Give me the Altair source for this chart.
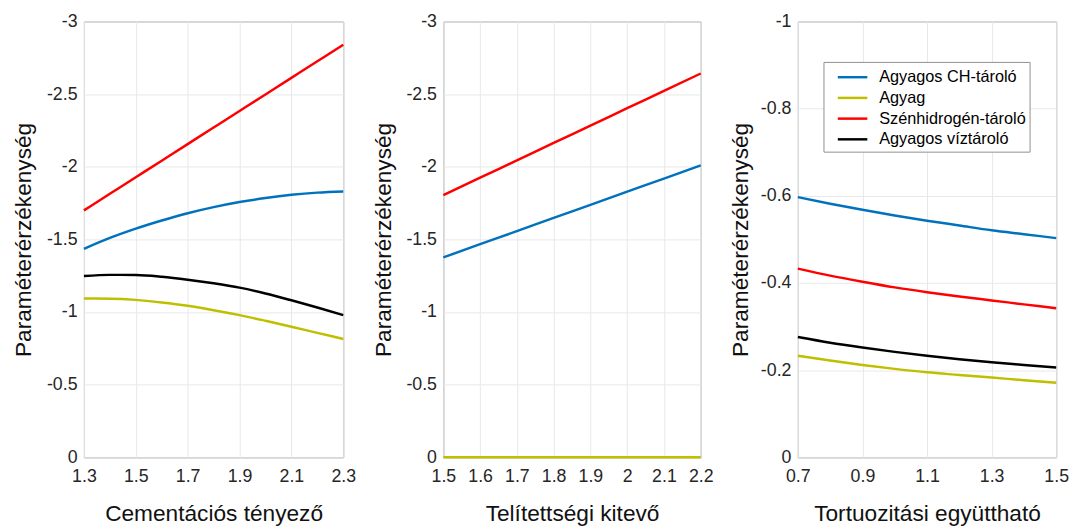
import altair as alt
import pandas as pd

series_names = ["Agyagos CH-tároló", "Agyag", "Szénhidrogén-tároló", "Agyagos víztároló"]
series_colors = ["#0072BD", "#BFBF00", "#FF0000", "#000000"]

# Panel 1: Cementációs tényező
p1_x = [1.3, 1.4, 1.5, 1.6, 1.7, 1.8, 1.9, 2.0, 2.1, 2.2, 2.3]
p1_blue = [-1.435, -1.51, -1.574, -1.63, -1.68, -1.722, -1.757, -1.785, -1.807, -1.822, -1.83]
p1_yellow = [-1.093, -1.092, -1.084, -1.066, -1.043, -1.013, -0.979, -0.94, -0.899, -0.857, -0.815]
p1_red = [-1.70, -1.814, -1.928, -2.042, -2.156, -2.27, -2.384, -2.498, -2.612, -2.726, -2.84]
p1_black = [-1.248, -1.256, -1.255, -1.243, -1.223, -1.198, -1.168, -1.128, -1.081, -1.031, -0.979]

# Panel 2: Telítettségi kitevő
p2_x = [1.5, 1.6, 1.7, 1.8, 1.9, 2.0, 2.1, 2.2]
p2_blue = [-1.376, -1.467, -1.557, -1.648, -1.738, -1.829, -1.919, -2.01]
p2_yellow = [0, 0, 0, 0, 0, 0, 0, 0]
p2_red = [-1.805, -1.925, -2.044, -2.164, -2.283, -2.403, -2.522, -2.642]

# Panel 3: Tortuozitási együttható
p3_x = [0.7, 0.8, 0.9, 1.0, 1.1, 1.2, 1.3, 1.4, 1.5]
p3_blue = [-0.597, -0.582, -0.568, -0.555, -0.543, -0.532, -0.521, -0.512, -0.503]
p3_yellow = [-0.233, -0.222, -0.212, -0.203, -0.195, -0.189, -0.183, -0.177, -0.171]
p3_red = [-0.433, -0.417, -0.403, -0.39, -0.379, -0.369, -0.36, -0.351, -0.342]
p3_black = [-0.276, -0.263, -0.252, -0.242, -0.233, -0.225, -0.218, -0.212, -0.206]

p1_ticks = [1.3, 1.5, 1.7, 1.9, 2.1, 2.3]
p2_ticks = [1.5, 1.6, 1.7, 1.8, 1.9, 2.0, 2.1, 2.2]
p3_ticks = [0.7, 0.9, 1.1, 1.3, 1.5]
y12_ticks = [0, -0.5, -1, -1.5, -2, -2.5, -3]
y3_ticks = [0, -0.2, -0.4, -0.6, -0.8, -1]

FONT = "Liberation Sans"


def make_df(xs, series):
    rows = []
    for order, (name, ys) in enumerate(series):
        for x, y in zip(xs, ys):
            rows.append({"x": x, "y": y, "series": name, "ord": order})
    return pd.DataFrame(rows)


def panel(df, xdom, xticks, ydom, yticks, xtitle, width, show_legend, ytitle_pad):
    color_scale = alt.Scale(domain=series_names, range=series_colors)
    if show_legend:
        legend = alt.Legend(
            title=None, orient="none", legendX=26, legendY=41,
            symbolType="M-1.42,0H1.42", symbolSize=445, symbolStrokeWidth=2.5,
            symbolFillColor="transparent",
            labelFontSize=16.5, labelFont=FONT, labelColor="#000000",
            labelExpr="datum.label + '\u00a0\u00a0\u00a0'",
            labelOffset=15, symbolOffset=14, rowPadding=0, padding=3.5,
            strokeColor="#8f8f8f", fillColor="white",
        )
    else:
        legend = None
    return alt.Chart(df).mark_line(strokeWidth=2.5, interpolate="monotone", clip=False).encode(
        x=alt.X("x:Q", scale=alt.Scale(domain=xdom, nice=False, zero=False),
                axis=alt.Axis(values=xticks, title=xtitle, labelExpr="'' + datum.value")),
        y=alt.Y("y:Q", scale=alt.Scale(domain=ydom, reverse=True, nice=False),
                axis=alt.Axis(values=yticks, title="Paraméterérzékenység",
                              titlePadding=ytitle_pad,
                              labelExpr="'' + datum.value")),
        color=alt.Color("series:N", scale=color_scale, legend=legend),
        detail="series:N",
        order="ord:Q",
    ).properties(width=width, height=442)


df1 = make_df(p1_x, [(series_names[0], p1_blue), (series_names[1], p1_yellow),
                     (series_names[2], p1_red), (series_names[3], p1_black)])
df2 = make_df(p2_x, [(series_names[0], p2_blue), (series_names[2], p2_red),
                     (series_names[1], p2_yellow)])
df3 = make_df(p3_x, [(series_names[0], p3_blue), (series_names[1], p3_yellow),
                     (series_names[2], p3_red), (series_names[3], p3_black)])

c1 = panel(df1, [1.3, 2.3], p1_ticks, [-3, 0], y12_ticks, "Cementációs tényező", 263, False, 11)
c2 = panel(df2, [1.5, 2.2], p2_ticks, [-3, 0], y12_ticks, "Telítettségi kitevő", 261, False, 11)
c3 = panel(df3, [0.7, 1.5], p3_ticks, [-1, 0], y3_ticks, "Tortuozitási együttható", 262, True, 8)

chart = alt.hconcat(c1, c2, c3, spacing=14.5).resolve_scale(color="independent").properties(
    padding={"left": 4, "top": 0, "right": 0, "bottom": 0}
).configure_view(
    stroke="#8f8f8f", strokeWidth=1
).configure_axis(
    labelFont=FONT, titleFont=FONT, labelFontSize=18, titleFontSize=23,
    labelColor="#262626", titleColor="#111111", titleFontWeight="normal",
    grid=True, gridColor="#e8e8e8", gridWidth=1, domain=False,
    ticks=False, labelPadding=7, labelFlush=False, labelOverlap=False,
).configure_axisX(
    labelPadding=11, titlePadding=17,
)

chart.save("out.html", embed_options={"renderer": "svg", "actions": False})
